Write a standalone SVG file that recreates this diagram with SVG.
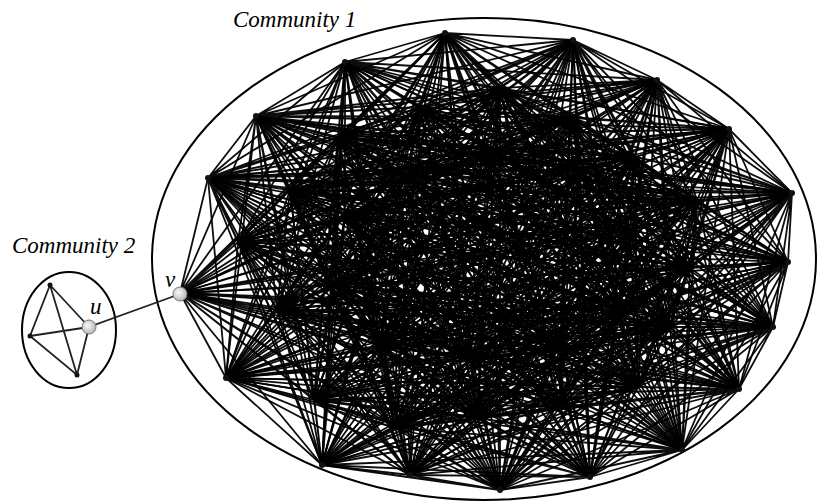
<svg xmlns="http://www.w3.org/2000/svg" width="818" height="504" viewBox="0 0 818 504">
<style>
.e{fill:none;stroke:#000;stroke-width:1.8;stroke-opacity:0.95;stroke-linejoin:round}
.c2{fill:none;stroke:#222;stroke-width:1.8}
.ring{fill:none;stroke:#000;stroke-width:2}
.n{fill:#111}
.big{fill:url(#g);stroke:#777;stroke-width:1}
.t{font-family:"Liberation Serif","Times New Roman",serif;font-style:italic;fill:#000}
</style>
<defs>
<radialGradient id="g" cx="0.4" cy="0.4" r="0.6">
<stop offset="0" stop-color="#fafafa"/>
<stop offset="1" stop-color="#b8b8b8"/>
</radialGradient>
</defs>
<rect width="818" height="504" fill="#fff"/>
<ellipse class="ring" cx="484" cy="259" rx="332" ry="241"/>
<ellipse class="ring" cx="69" cy="330" rx="47" ry="58"/>
<text class="t" x="233" y="27" font-size="23">Community 1</text>
<text class="t" x="12" y="253" font-size="23">Community 2</text>
<g id="connectors">
<path class="e" d="M180 293 208 178 180 293 256 116 180 293 345 62 180 293 445 33 180 293 573 40 180 293 657 80 180 293 729 129 180 293 792 193 180 293 788 262 180 293 773 327 180 293 739 389 180 293 682 450 180 293 590 477 180 293 500 490 180 293 410 475 180 293 322 465 180 293 226 378 180 293 238 242 180 293 277 310 180 293 314 400 180 293 395 428 180 293 477 418 180 293 560 407 180 293 638 387 180 293 670 327 180 293 690 268 180 293 697 200 180 293 635 157 180 293 570 117 180 293 500 88 180 293 420 107 180 293 338 137 180 293 290 190"/>
<path class="e" d="M208 178 256 116 208 178 345 62 208 178 445 33 208 178 573 40 208 178 657 80 208 178 729 129 208 178 792 193 208 178 788 262 208 178 773 327 208 178 739 389 208 178 682 450 208 178 590 477 208 178 500 490 208 178 410 475 208 178 322 465 208 178 226 378 208 178 238 242 208 178 277 310 208 178 314 400 208 178 395 428 208 178 477 418 208 178 560 407 208 178 638 387 208 178 670 327 208 178 690 268 208 178 697 200 208 178 635 157 208 178 570 117 208 178 500 88 208 178 420 107 208 178 338 137 208 178 290 190"/>
<path class="e" d="M256 116 345 62 256 116 445 33 256 116 573 40 256 116 657 80 256 116 729 129 256 116 792 193 256 116 788 262 256 116 773 327 256 116 739 389 256 116 682 450 256 116 590 477 256 116 500 490 256 116 410 475 256 116 322 465 256 116 226 378 256 116 238 242 256 116 277 310 256 116 314 400 256 116 395 428 256 116 477 418 256 116 560 407 256 116 638 387 256 116 670 327 256 116 690 268 256 116 697 200 256 116 635 157 256 116 570 117 256 116 500 88 256 116 420 107 256 116 338 137 256 116 290 190"/>
<path class="e" d="M345 62 445 33 345 62 573 40 345 62 657 80 345 62 729 129 345 62 792 193 345 62 788 262 345 62 773 327 345 62 739 389 345 62 682 450 345 62 590 477 345 62 500 490 345 62 410 475 345 62 322 465 345 62 226 378 345 62 238 242 345 62 277 310 345 62 314 400 345 62 395 428 345 62 477 418 345 62 560 407 345 62 638 387 345 62 670 327 345 62 690 268 345 62 697 200 345 62 635 157 345 62 570 117 345 62 500 88 345 62 420 107 345 62 338 137 345 62 290 190"/>
<path class="e" d="M445 33 573 40 445 33 657 80 445 33 729 129 445 33 792 193 445 33 788 262 445 33 773 327 445 33 739 389 445 33 682 450 445 33 590 477 445 33 500 490 445 33 410 475 445 33 322 465 445 33 226 378 445 33 238 242 445 33 277 310 445 33 314 400 445 33 395 428 445 33 477 418 445 33 560 407 445 33 638 387 445 33 670 327 445 33 690 268 445 33 697 200 445 33 635 157 445 33 570 117 445 33 500 88 445 33 420 107 445 33 338 137 445 33 290 190"/>
<path class="e" d="M573 40 657 80 573 40 729 129 573 40 792 193 573 40 788 262 573 40 773 327 573 40 739 389 573 40 682 450 573 40 590 477 573 40 500 490 573 40 410 475 573 40 322 465 573 40 226 378 573 40 238 242 573 40 277 310 573 40 314 400 573 40 395 428 573 40 477 418 573 40 560 407 573 40 638 387 573 40 670 327 573 40 690 268 573 40 697 200 573 40 635 157 573 40 570 117 573 40 500 88 573 40 420 107 573 40 338 137 573 40 290 190"/>
<path class="e" d="M657 80 729 129 657 80 792 193 657 80 788 262 657 80 773 327 657 80 739 389 657 80 682 450 657 80 590 477 657 80 500 490 657 80 410 475 657 80 322 465 657 80 226 378 657 80 238 242 657 80 277 310 657 80 314 400 657 80 395 428 657 80 477 418 657 80 560 407 657 80 638 387 657 80 670 327 657 80 690 268 657 80 697 200 657 80 635 157 657 80 570 117 657 80 500 88 657 80 420 107 657 80 338 137 657 80 290 190"/>
<path class="e" d="M729 129 792 193 729 129 788 262 729 129 773 327 729 129 739 389 729 129 682 450 729 129 590 477 729 129 500 490 729 129 410 475 729 129 322 465 729 129 226 378 729 129 238 242 729 129 277 310 729 129 314 400 729 129 395 428 729 129 477 418 729 129 560 407 729 129 638 387 729 129 670 327 729 129 690 268 729 129 697 200 729 129 635 157 729 129 570 117 729 129 500 88 729 129 420 107 729 129 338 137 729 129 290 190"/>
<path class="e" d="M792 193 788 262 792 193 773 327 792 193 739 389 792 193 682 450 792 193 590 477 792 193 500 490 792 193 410 475 792 193 322 465 792 193 226 378 792 193 238 242 792 193 277 310 792 193 314 400 792 193 395 428 792 193 477 418 792 193 560 407 792 193 638 387 792 193 670 327 792 193 690 268 792 193 697 200 792 193 635 157 792 193 570 117 792 193 500 88 792 193 420 107 792 193 338 137 792 193 290 190"/>
<path class="e" d="M788 262 773 327 788 262 739 389 788 262 682 450 788 262 590 477 788 262 500 490 788 262 410 475 788 262 322 465 788 262 226 378 788 262 238 242 788 262 277 310 788 262 314 400 788 262 395 428 788 262 477 418 788 262 560 407 788 262 638 387 788 262 670 327 788 262 690 268 788 262 697 200 788 262 635 157 788 262 570 117 788 262 500 88 788 262 420 107 788 262 338 137 788 262 290 190"/>
<path class="e" d="M773 327 739 389 773 327 682 450 773 327 590 477 773 327 500 490 773 327 410 475 773 327 322 465 773 327 226 378 773 327 238 242 773 327 277 310 773 327 314 400 773 327 395 428 773 327 477 418 773 327 560 407 773 327 638 387 773 327 670 327 773 327 690 268 773 327 697 200 773 327 635 157 773 327 570 117 773 327 500 88 773 327 420 107 773 327 338 137 773 327 290 190"/>
<path class="e" d="M739 389 682 450 739 389 590 477 739 389 500 490 739 389 410 475 739 389 322 465 739 389 226 378 739 389 238 242 739 389 277 310 739 389 314 400 739 389 395 428 739 389 477 418 739 389 560 407 739 389 638 387 739 389 670 327 739 389 690 268 739 389 697 200 739 389 635 157 739 389 570 117 739 389 500 88 739 389 420 107 739 389 338 137 739 389 290 190"/>
<path class="e" d="M682 450 590 477 682 450 500 490 682 450 410 475 682 450 322 465 682 450 226 378 682 450 238 242 682 450 277 310 682 450 314 400 682 450 395 428 682 450 477 418 682 450 560 407 682 450 638 387 682 450 670 327 682 450 690 268 682 450 697 200 682 450 635 157 682 450 570 117 682 450 500 88 682 450 420 107 682 450 338 137 682 450 290 190"/>
<path class="e" d="M590 477 500 490 590 477 410 475 590 477 322 465 590 477 226 378 590 477 238 242 590 477 277 310 590 477 314 400 590 477 395 428 590 477 477 418 590 477 560 407 590 477 638 387 590 477 670 327 590 477 690 268 590 477 697 200 590 477 635 157 590 477 570 117 590 477 500 88 590 477 420 107 590 477 338 137 590 477 290 190"/>
<path class="e" d="M500 490 410 475 500 490 322 465 500 490 226 378 500 490 238 242 500 490 277 310 500 490 314 400 500 490 395 428 500 490 477 418 500 490 560 407 500 490 638 387 500 490 670 327 500 490 690 268 500 490 697 200 500 490 635 157 500 490 570 117 500 490 500 88 500 490 420 107 500 490 338 137 500 490 290 190"/>
<path class="e" d="M410 475 322 465 410 475 226 378 410 475 238 242 410 475 277 310 410 475 314 400 410 475 395 428 410 475 477 418 410 475 560 407 410 475 638 387 410 475 670 327 410 475 690 268 410 475 697 200 410 475 635 157 410 475 570 117 410 475 500 88 410 475 420 107 410 475 338 137 410 475 290 190"/>
<path class="e" d="M322 465 226 378 322 465 238 242 322 465 277 310 322 465 314 400 322 465 395 428 322 465 477 418 322 465 560 407 322 465 638 387 322 465 670 327 322 465 690 268 322 465 697 200 322 465 635 157 322 465 570 117 322 465 500 88 322 465 420 107 322 465 338 137 322 465 290 190"/>
<path class="e" d="M226 378 238 242 226 378 277 310 226 378 314 400 226 378 395 428 226 378 477 418 226 378 560 407 226 378 638 387 226 378 670 327 226 378 690 268 226 378 697 200 226 378 635 157 226 378 570 117 226 378 500 88 226 378 420 107 226 378 338 137 226 378 290 190"/>
<path class="e" d="M238 242 277 310 238 242 314 400 238 242 395 428 238 242 477 418 238 242 560 407 238 242 638 387 238 242 670 327 238 242 690 268 238 242 697 200 238 242 635 157 238 242 570 117 238 242 500 88 238 242 420 107 238 242 338 137 238 242 290 190"/>
<path class="e" d="M277 310 314 400 277 310 395 428 277 310 477 418 277 310 560 407 277 310 638 387 277 310 670 327 277 310 690 268 277 310 697 200 277 310 635 157 277 310 570 117 277 310 500 88 277 310 420 107 277 310 338 137 277 310 290 190"/>
<path class="e" d="M314 400 395 428 314 400 477 418 314 400 560 407 314 400 638 387 314 400 670 327 314 400 690 268 314 400 697 200 314 400 635 157 314 400 570 117 314 400 500 88 314 400 420 107 314 400 338 137 314 400 290 190"/>
<path class="e" d="M395 428 477 418 395 428 560 407 395 428 638 387 395 428 670 327 395 428 690 268 395 428 697 200 395 428 635 157 395 428 570 117 395 428 500 88 395 428 420 107 395 428 338 137 395 428 290 190"/>
<path class="e" d="M477 418 560 407 477 418 638 387 477 418 670 327 477 418 690 268 477 418 697 200 477 418 635 157 477 418 570 117 477 418 500 88 477 418 420 107 477 418 338 137 477 418 290 190"/>
<path class="e" d="M560 407 638 387 560 407 670 327 560 407 690 268 560 407 697 200 560 407 635 157 560 407 570 117 560 407 500 88 560 407 420 107 560 407 338 137 560 407 290 190"/>
<path class="e" d="M638 387 670 327 638 387 690 268 638 387 697 200 638 387 635 157 638 387 570 117 638 387 500 88 638 387 420 107 638 387 338 137 638 387 290 190"/>
<path class="e" d="M670 327 690 268 670 327 697 200 670 327 635 157 670 327 570 117 670 327 500 88 670 327 420 107 670 327 338 137 670 327 290 190"/>
<path class="e" d="M690 268 697 200 690 268 635 157 690 268 570 117 690 268 500 88 690 268 420 107 690 268 338 137 690 268 290 190"/>
<path class="e" d="M697 200 635 157 697 200 570 117 697 200 500 88 697 200 420 107 697 200 338 137 697 200 290 190"/>
<path class="e" d="M635 157 570 117 635 157 500 88 635 157 420 107 635 157 338 137 635 157 290 190"/>
<path class="e" d="M570 117 500 88 570 117 420 107 570 117 338 137 570 117 290 190"/>
<path class="e" d="M500 88 420 107 500 88 338 137 500 88 290 190"/>
<path class="e" d="M420 107 338 137 420 107 290 190"/>
<path class="e" d="M338 137 290 190"/>
<path class="e" d="M400 170 180 293 400 170 208 178 400 170 256 116 400 170 345 62 400 170 445 33 400 170 573 40 400 170 657 80 400 170 729 129 400 170 792 193 400 170 788 262 400 170 773 327 400 170 739 389 400 170 682 450 400 170 590 477 400 170 500 490 400 170 410 475 400 170 322 465 400 170 226 378 400 170 238 242 400 170 277 310 400 170 314 400 400 170 395 428 400 170 477 418 400 170 560 407 400 170 638 387 400 170 670 327 400 170 690 268 400 170 697 200 400 170 635 157 400 170 570 117 400 170 500 88 400 170 420 107 400 170 338 137 400 170 290 190 400 170 490 150 400 170 580 170 400 170 630 230 400 170 620 310 400 170 560 350 400 170 470 360 400 170 380 345 400 170 335 285 400 170 345 215"/>
<path class="e" d="M490 150 180 293 490 150 208 178 490 150 256 116 490 150 345 62 490 150 445 33 490 150 573 40 490 150 657 80 490 150 729 129 490 150 792 193 490 150 788 262 490 150 773 327 490 150 739 389 490 150 682 450 490 150 590 477 490 150 500 490 490 150 410 475 490 150 322 465 490 150 226 378 490 150 238 242 490 150 277 310 490 150 314 400 490 150 395 428 490 150 477 418 490 150 560 407 490 150 638 387 490 150 670 327 490 150 690 268 490 150 697 200 490 150 635 157 490 150 570 117 490 150 500 88 490 150 420 107 490 150 338 137 490 150 290 190 490 150 580 170 490 150 630 230 490 150 620 310 490 150 560 350 490 150 470 360 490 150 380 345 490 150 335 285 490 150 345 215"/>
<path class="e" d="M580 170 180 293 580 170 208 178 580 170 256 116 580 170 345 62 580 170 445 33 580 170 573 40 580 170 657 80 580 170 729 129 580 170 792 193 580 170 788 262 580 170 773 327 580 170 739 389 580 170 682 450 580 170 590 477 580 170 500 490 580 170 410 475 580 170 322 465 580 170 226 378 580 170 238 242 580 170 277 310 580 170 314 400 580 170 395 428 580 170 477 418 580 170 560 407 580 170 638 387 580 170 670 327 580 170 690 268 580 170 697 200 580 170 635 157 580 170 570 117 580 170 500 88 580 170 420 107 580 170 338 137 580 170 290 190 580 170 630 230 580 170 620 310 580 170 560 350 580 170 470 360 580 170 380 345 580 170 335 285 580 170 345 215"/>
<path class="e" d="M630 230 180 293 630 230 208 178 630 230 256 116 630 230 345 62 630 230 445 33 630 230 573 40 630 230 657 80 630 230 729 129 630 230 792 193 630 230 788 262 630 230 773 327 630 230 739 389 630 230 682 450 630 230 590 477 630 230 500 490 630 230 410 475 630 230 322 465 630 230 226 378 630 230 238 242 630 230 277 310 630 230 314 400 630 230 395 428 630 230 477 418 630 230 560 407 630 230 638 387 630 230 670 327 630 230 690 268 630 230 697 200 630 230 635 157 630 230 570 117 630 230 500 88 630 230 420 107 630 230 338 137 630 230 290 190 630 230 620 310 630 230 560 350 630 230 470 360 630 230 380 345 630 230 335 285 630 230 345 215"/>
<path class="e" d="M620 310 180 293 620 310 208 178 620 310 256 116 620 310 345 62 620 310 445 33 620 310 573 40 620 310 657 80 620 310 729 129 620 310 792 193 620 310 788 262 620 310 773 327 620 310 739 389 620 310 682 450 620 310 590 477 620 310 500 490 620 310 410 475 620 310 322 465 620 310 226 378 620 310 238 242 620 310 277 310 620 310 314 400 620 310 395 428 620 310 477 418 620 310 560 407 620 310 638 387 620 310 670 327 620 310 690 268 620 310 697 200 620 310 635 157 620 310 570 117 620 310 500 88 620 310 420 107 620 310 338 137 620 310 290 190 620 310 560 350 620 310 470 360 620 310 380 345 620 310 335 285 620 310 345 215"/>
<path class="e" d="M560 350 180 293 560 350 208 178 560 350 256 116 560 350 345 62 560 350 445 33 560 350 573 40 560 350 657 80 560 350 729 129 560 350 792 193 560 350 788 262 560 350 773 327 560 350 739 389 560 350 682 450 560 350 590 477 560 350 500 490 560 350 410 475 560 350 322 465 560 350 226 378 560 350 238 242 560 350 277 310 560 350 314 400 560 350 395 428 560 350 477 418 560 350 560 407 560 350 638 387 560 350 670 327 560 350 690 268 560 350 697 200 560 350 635 157 560 350 570 117 560 350 500 88 560 350 420 107 560 350 338 137 560 350 290 190 560 350 470 360 560 350 380 345 560 350 335 285 560 350 345 215"/>
<path class="e" d="M470 360 180 293 470 360 208 178 470 360 256 116 470 360 345 62 470 360 445 33 470 360 573 40 470 360 657 80 470 360 729 129 470 360 792 193 470 360 788 262 470 360 773 327 470 360 739 389 470 360 682 450 470 360 590 477 470 360 500 490 470 360 410 475 470 360 322 465 470 360 226 378 470 360 238 242 470 360 277 310 470 360 314 400 470 360 395 428 470 360 477 418 470 360 560 407 470 360 638 387 470 360 670 327 470 360 690 268 470 360 697 200 470 360 635 157 470 360 570 117 470 360 500 88 470 360 420 107 470 360 338 137 470 360 290 190 470 360 380 345 470 360 335 285 470 360 345 215"/>
<path class="e" d="M380 345 180 293 380 345 208 178 380 345 256 116 380 345 345 62 380 345 445 33 380 345 573 40 380 345 657 80 380 345 729 129 380 345 792 193 380 345 788 262 380 345 773 327 380 345 739 389 380 345 682 450 380 345 590 477 380 345 500 490 380 345 410 475 380 345 322 465 380 345 226 378 380 345 238 242 380 345 277 310 380 345 314 400 380 345 395 428 380 345 477 418 380 345 560 407 380 345 638 387 380 345 670 327 380 345 690 268 380 345 697 200 380 345 635 157 380 345 570 117 380 345 500 88 380 345 420 107 380 345 338 137 380 345 290 190 380 345 335 285 380 345 345 215"/>
<path class="e" d="M335 285 180 293 335 285 208 178 335 285 256 116 335 285 345 62 335 285 445 33 335 285 573 40 335 285 657 80 335 285 729 129 335 285 792 193 335 285 788 262 335 285 773 327 335 285 739 389 335 285 682 450 335 285 590 477 335 285 500 490 335 285 410 475 335 285 322 465 335 285 226 378 335 285 238 242 335 285 277 310 335 285 314 400 335 285 395 428 335 285 477 418 335 285 560 407 335 285 638 387 335 285 670 327 335 285 690 268 335 285 697 200 335 285 635 157 335 285 570 117 335 285 500 88 335 285 420 107 335 285 338 137 335 285 290 190 335 285 345 215"/>
<path class="e" d="M345 215 180 293 345 215 208 178 345 215 256 116 345 215 345 62 345 215 445 33 345 215 573 40 345 215 657 80 345 215 729 129 345 215 792 193 345 215 788 262 345 215 773 327 345 215 739 389 345 215 682 450 345 215 590 477 345 215 500 490 345 215 410 475 345 215 322 465 345 215 226 378 345 215 238 242 345 215 277 310 345 215 314 400 345 215 395 428 345 215 477 418 345 215 560 407 345 215 638 387 345 215 670 327 345 215 690 268 345 215 697 200 345 215 635 157 345 215 570 117 345 215 500 88 345 215 420 107 345 215 338 137 345 215 290 190"/>
<path class="c2" d="M50 285 30 336 77 375 50 285 89 327 30 336 M77 375 89 327 180 294"/>
</g>
<g id="nodes">
<g id="n1"><circle class="n" cx="208" cy="178" r="3"/></g>
<g id="n2"><circle class="n" cx="256" cy="116" r="3"/></g>
<g id="n3"><circle class="n" cx="345" cy="62" r="3"/></g>
<g id="n4"><circle class="n" cx="445" cy="33" r="3"/></g>
<g id="n5"><circle class="n" cx="573" cy="40" r="3"/></g>
<g id="n6"><circle class="n" cx="657" cy="80" r="3"/></g>
<g id="n7"><circle class="n" cx="729" cy="129" r="3"/></g>
<g id="n8"><circle class="n" cx="792" cy="193" r="3"/></g>
<g id="n9"><circle class="n" cx="788" cy="262" r="3"/></g>
<g id="n10"><circle class="n" cx="773" cy="327" r="3"/></g>
<g id="n11"><circle class="n" cx="739" cy="389" r="3"/></g>
<g id="n12"><circle class="n" cx="682" cy="450" r="3"/></g>
<g id="n13"><circle class="n" cx="590" cy="477" r="3"/></g>
<g id="n14"><circle class="n" cx="500" cy="490" r="3"/></g>
<g id="n15"><circle class="n" cx="410" cy="475" r="3"/></g>
<g id="n16"><circle class="n" cx="322" cy="465" r="3"/></g>
<g id="n17"><circle class="n" cx="226" cy="378" r="3"/></g>
<g id="c2a"><circle class="n" cx="50" cy="285" r="2.5"/></g>
<g id="c2b"><circle class="n" cx="30" cy="336" r="2.5"/></g>
<g id="c2c"><circle class="n" cx="77" cy="375" r="2.5"/></g>
<g id="node-v"><circle class="big" cx="180" cy="294" r="7"/><text class="t" x="165" y="287" font-size="23">v</text></g>
<g id="node-u"><circle class="big" cx="89" cy="327" r="7"/><text class="t" x="90" y="314" font-size="23">u</text></g>
</g>
</svg>
